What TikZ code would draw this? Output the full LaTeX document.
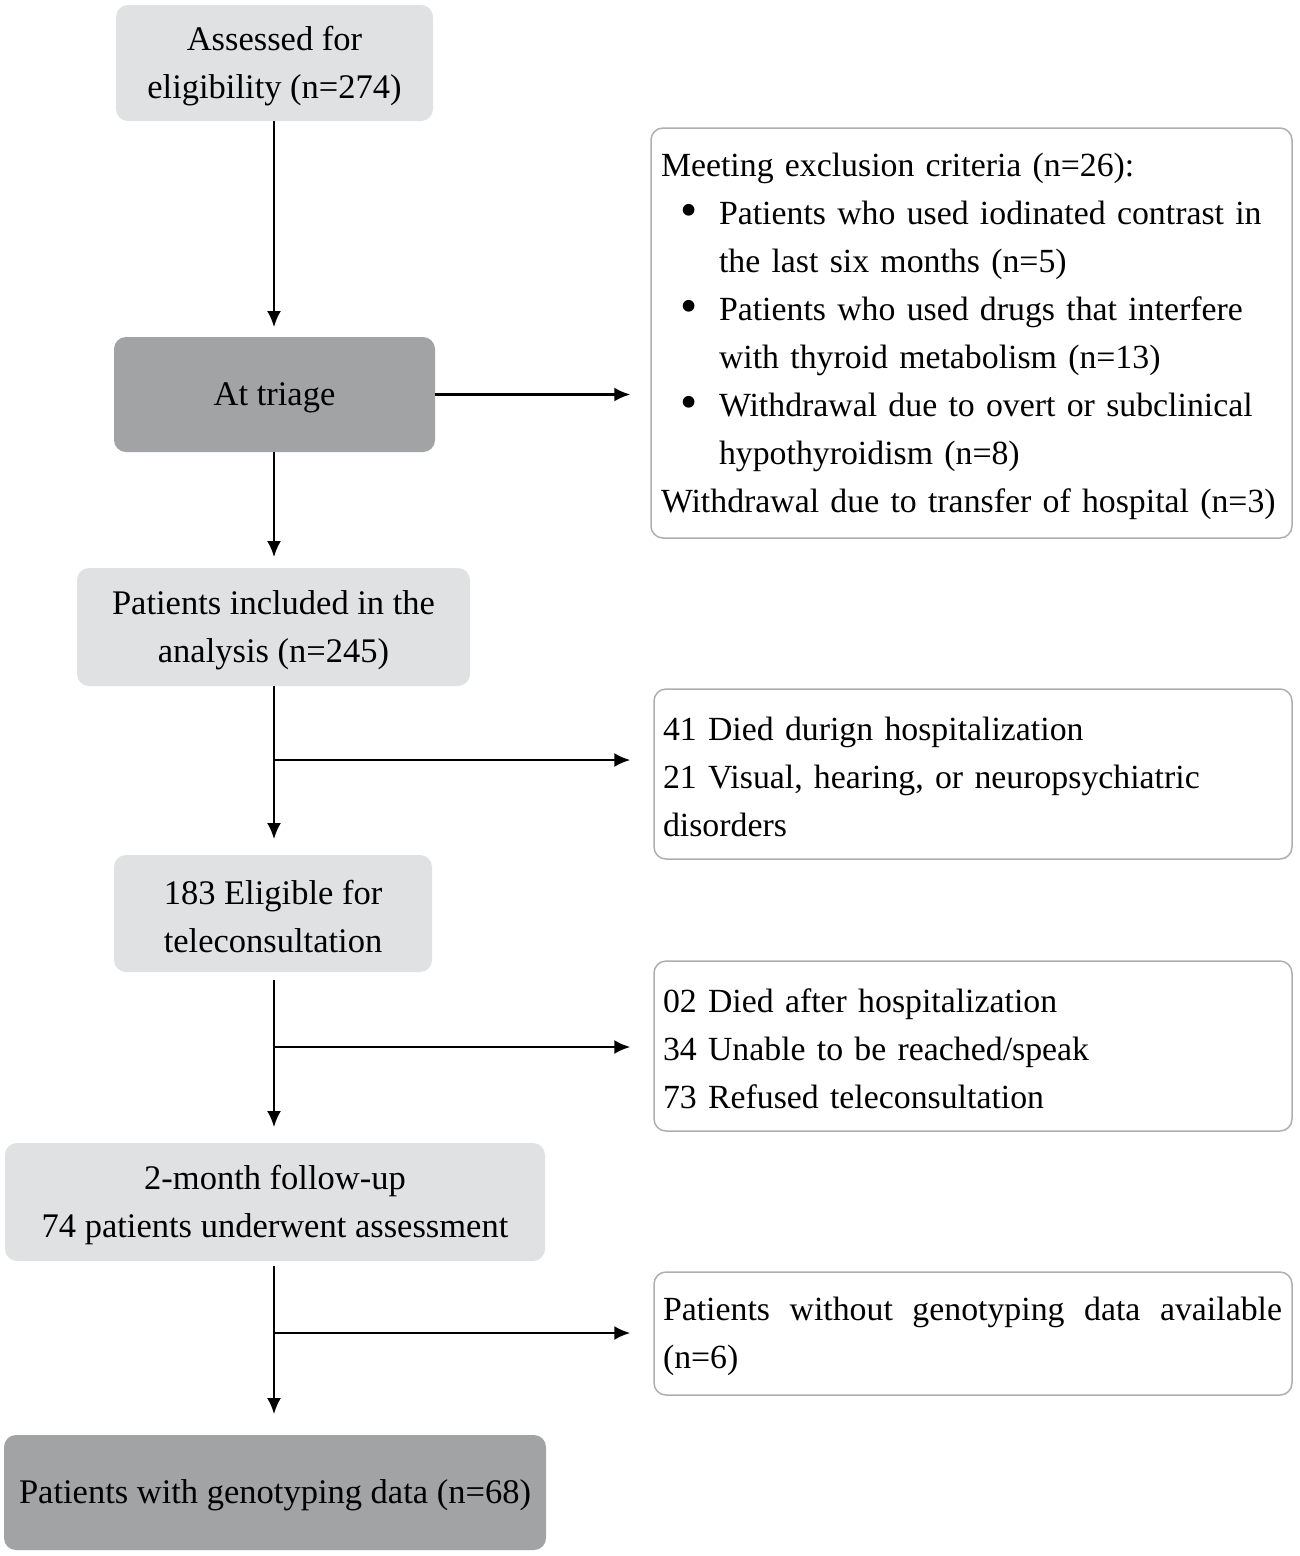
\documentclass[tikz,border=0pt]{standalone}
\usepackage{fontspec}
\usepackage{graphicx}
\setmainfont{Liberation Serif}
\usetikzlibrary{arrows.meta}
\definecolor{lightbox}{RGB}{224,225,227}
\definecolor{darkbox}{RGB}{162,163,165}
\definecolor{rborder}{RGB}{175,175,175}
\tikzset{
  base/.style={rounded corners=12pt, inner sep=0pt, font=\fontsize{34.5}{48}\selectfont},
  lbox/.style={base, fill=lightbox, align=center},
  dbox/.style={base, fill=darkbox, align=center},
  rbox/.style={rounded corners=12pt, inner sep=0pt, font=\fontsize{33.8}{48}\selectfont, draw=rborder, line width=1.5pt, fill=white, align=left, inner xsep=10pt},
  arr/.style={line width=2.2pt, -{Latex[length=16pt,width=14pt]}},
  down/.style={yshift=-3pt},
}
\newcommand{\bul}{\makebox[58pt][l]{\hspace{19pt}\raisebox{-2.5pt}{\scalebox{1.45}{\textbullet}}}}
\begin{document}
\begin{tikzpicture}[x=1pt,y=-1pt]
\useasboundingbox (0,0) rectangle (1299,1556);
\fill[white] (0,0) rectangle (1299,1556);

% boxes
\node[lbox, minimum width=317pt, minimum height=116pt] (b1) at (274.5,63) {};
\node[dbox, minimum width=321pt, minimum height=115pt] (b2) at (274.5,394.5) {};
\node[lbox, minimum width=393pt, minimum height=118pt] (b3) at (273.5,627) {};
\node[lbox, minimum width=318pt, minimum height=117pt] (b4) at (273,913.5) {};
\node[lbox, minimum width=540pt, minimum height=118pt] (b5) at (275,1202) {};
\node[dbox, minimum width=542pt, minimum height=115pt] (b6) at (275,1492.5) {};
\node[rbox, minimum width=641pt, minimum height=410pt] (r1) at (971.5,333) {};
\node[rbox, minimum width=638pt, minimum height=170pt] (r2) at (973,774) {};
\node[rbox, minimum width=638pt, minimum height=170pt] (r3) at (973,1046) {};
\node[rbox, minimum width=638pt, minimum height=123pt] (r4) at (973,1333.5) {};

% texts
\node[base, align=center, down] (t1) at (b1) {Assessed for\\eligibility (n=274)};
\node[base, align=center, down] (t2) at (b2) {At triage};
\node[base, align=center, down] (t3) at (b3) {Patients included in the\\analysis (n=245)};
\node[base, align=center, down] (t4) at (b4) {183 Eligible for\\teleconsultation};
\node[base, align=center, down] (t5) at (b5) {2-month follow-up\\74 patients underwent assessment};
\node[base, align=center, down] (t6) at (b6) {Patients with genotyping data (n=68)};

\node[inner sep=0pt, font=\fontsize{33.8}{48}\selectfont, align=left, text width=621pt, down] (s1) at (r1) {Meeting exclusion criteria (n=26):\\
\bul Patients who used iodinated contrast in\\
\hspace*{58pt}the last six months (n=5)\\
\bul Patients who used drugs that interfere\\
\hspace*{58pt}with thyroid metabolism (n=13)\\
\bul Withdrawal due to overt or subclinical\\
\hspace*{58pt}hypothyroidism (n=8)\\
\mbox{Withdrawal due to transfer of hospital (n=3)}};
\node[inner sep=0pt, font=\fontsize{33.8}{48}\selectfont, align=left, text width=620pt, down] (s2) at (r2) {41 Died durign hospitalization\\21 Visual, hearing, or neuropsychiatric\\disorders};
\node[inner sep=0pt, font=\fontsize{33.8}{48}\selectfont, align=left, text width=620pt, down] (s3) at (r3) {02 Died after hospitalization\\34 Unable to be reached/speak\\73 Refused teleconsultation};
\node[inner sep=0pt, font=\fontsize{33.8}{48}\selectfont, align=left, text width=620pt, down] (s4) at (r4) {\hbox to 619pt{Patients\hfill without\hfill genotyping\hfill data\hfill available}\\(n=6)};

\coordinate (v1) at (274,121);
\coordinate (v2) at (274,452);
\coordinate (v3) at (274,686);
\coordinate (v4) at (274,980);
\coordinate (v5) at (274,1266);
\draw[arr] (v1) -- (274,327) coordinate (e1);
\draw[arr] (v2) -- (274,557) coordinate (e2);
\draw[arr] (v3) -- (274,839) coordinate (e3);
\draw[arr] (v4) -- (274,1127) coordinate (e4);
\draw[arr] (v5) -- (274,1414) coordinate (e5);

\draw[arr, shorten >=20pt] (b2.east) -- (b2.east -| r1.west);
\coordinate (j1) at (274,760);
\coordinate (j2) at (274,1047);
\coordinate (j3) at (274,1333);
\draw[arr, shorten >=23pt] (j1) -- (j1 -| r2.west);
\draw[arr, shorten >=23pt] (j2) -- (j2 -| r3.west);
\draw[arr, shorten >=23pt] (j3) -- (j3 -| r4.west);
\end{tikzpicture}
\end{document}
